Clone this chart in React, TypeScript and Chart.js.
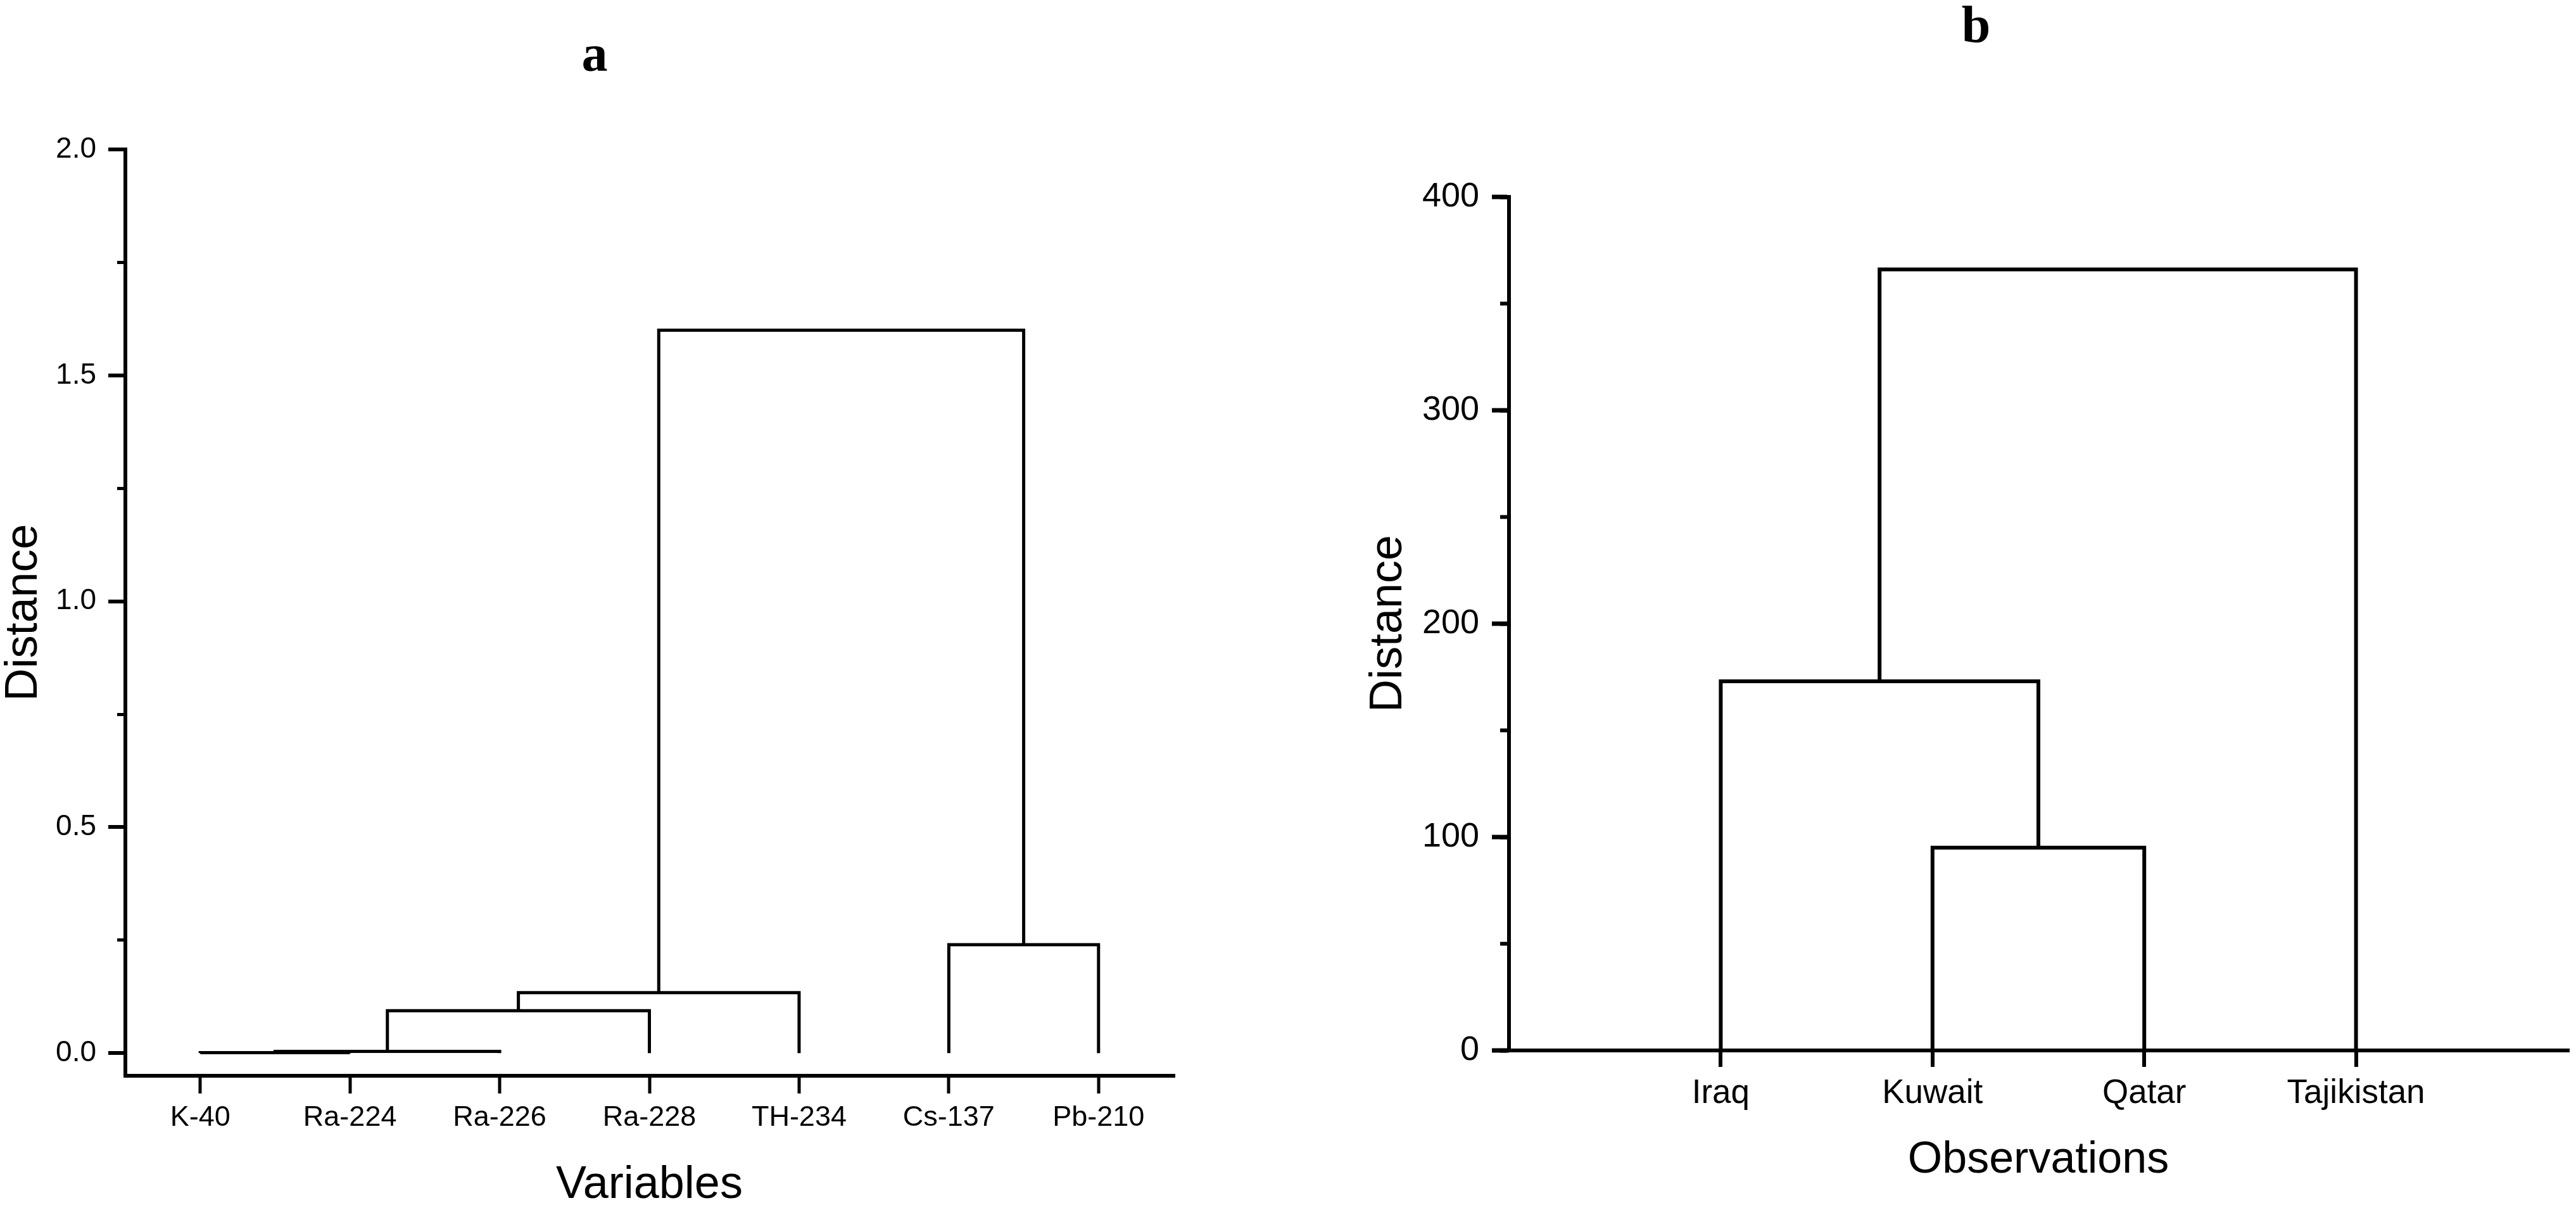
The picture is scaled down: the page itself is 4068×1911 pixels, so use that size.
import React, { useEffect, useRef } from 'react';
import { Chart, registerables } from 'chart.js';

Chart.register(...registerables);

// ---------- Panel a : variables ----------
const variableLabels = ['K-40', 'Ra-224', 'Ra-226', 'Ra-228', 'TH-234', 'Cs-137', 'Pb-210'];
// merges: node ids 0..6 are leaves, 7.. are clusters created in order
const variableMergeLeft = [0, 7, 8, 9, 5, 10];
const variableMergeRight = [1, 2, 3, 4, 6, 11];
const variableMergeHeight = [0.001, 0.004, 0.094, 0.134, 0.24, 1.6];
const variableMajorTicks = [0, 0.5, 1.0, 1.5, 2.0];
const variableMinorTicks = [0, 0.25, 0.5, 0.75, 1.0, 1.25, 1.5, 1.75, 2.0];

// ---------- Panel b : observations ----------
const observationLabels = ['Iraq', 'Kuwait', 'Qatar', 'Tajikistan'];
const observationMergeLeft = [1, 0, 5];
const observationMergeRight = [2, 4, 3];
const observationMergeHeight = [95, 173, 366];
const observationMajorTicks = [0, 100, 200, 300, 400];
const observationMinorTicks = [0, 50, 100, 150, 200, 250, 300, 350, 400];

const FONT_SANS = "'Liberation Sans', Arial, Helvetica, sans-serif";
const FONT_NARROW = "'Liberation Sans Narrow', 'Arial Narrow', 'Liberation Sans', sans-serif";
const FONT_SERIF = "'Liberation Serif', 'Times New Roman', serif";

function dendrogramSegments(n: number, left: number[], right: number[], heights: number[]) {
  const xs: number[] = [];
  const hs: number[] = [];
  for (let i = 0; i < n; i++) {
    xs.push(i);
    hs.push(0);
  }
  return left.map((l, k) => {
    const r = right[k];
    const h = heights[k];
    const seg = [
      { x: xs[l], y: hs[l] },
      { x: xs[l], y: h },
      { x: xs[r], y: h },
      { x: xs[r], y: hs[r] },
    ];
    xs.push((xs[l] + xs[r]) / 2);
    hs.push(h);
    return seg;
  });
}

type PanelSpec = {
  title: string;
  titlePad: { top: number; bottom: number };
  padding: { left: number; right: number; top: number; bottom: number };
  labels: string[];
  mergeLeft: number[];
  mergeRight: number[];
  mergeHeight: number[];
  xMin: number;
  xMax: number;
  yMin: number;
  yMax: number;
  majorTicks: number[];
  minorTicks: number[];
  yFmt: (v: number) => string;
  yWidth: number;
  xHeight: number;
  xTickFont: any;
  xTickLen: number;
  xTickPad: number;
  yTickFont: any;
  yTickLen: number;
  yMinorLen: number;
  yTickPad: number;
  xTitle: string;
  xTitleSize: number;
  xTitlePadBottom: number;
  yTitleSize: number;
  yTitleLineHeight: number;
  lineWidth: number;
  axisWidth: number;
  tickWidth: number;
};

function buildConfig(p: PanelSpec): any {
  const segments = dendrogramSegments(p.labels.length, p.mergeLeft, p.mergeRight, p.mergeHeight);
  return {
    type: 'scatter',
    data: {
      datasets: segments.map((seg) => ({
        data: seg,
        showLine: true,
        borderColor: '#000',
        backgroundColor: '#000',
        borderWidth: p.lineWidth,
        pointRadius: 0,
        pointHoverRadius: 0,
        borderJoinStyle: 'miter',
        borderCapStyle: 'butt',
        fill: false,
        tension: 0,
        clip: false,
        xAxisID: 'x',
        yAxisID: 'y',
      })),
    },
    options: {
      responsive: false,
      animation: false,
      devicePixelRatio: 1,
      events: [],
      layout: { padding: p.padding },
      plugins: {
        legend: { display: false },
        tooltip: { enabled: false },
        title: {
          display: true,
          text: p.title,
          color: '#000',
          font: { family: FONT_SERIF, size: 82, weight: 'bold', lineHeight: 1 },
          padding: p.titlePad,
        },
      },
      scales: {
        x: {
          type: 'linear',
          position: 'bottom',
          min: p.xMin,
          max: p.xMax,
          afterBuildTicks: (s: any) => {
            s.ticks = p.labels.map((_, i) => ({ value: i }));
          },
          afterFit: (s: any) => {
            s.height = p.xHeight;
          },
          ticks: {
            callback: (v: number) => p.labels[v],
            color: '#000',
            font: p.xTickFont,
            padding: p.xTickPad,
            autoSkip: false,
            maxRotation: 0,
            minRotation: 0,
          },
          grid: {
            drawOnChartArea: false,
            drawTicks: true,
            tickLength: p.xTickLen,
            tickWidth: p.tickWidth,
            tickColor: '#000',
            lineWidth: p.axisWidth,
            color: '#000',
          },
          border: { display: true, width: p.axisWidth, color: '#000' },
          title: {
            display: true,
            text: p.xTitle,
            color: '#000',
            font: { family: FONT_SANS, size: p.xTitleSize, lineHeight: 1 },
            padding: { top: 0, bottom: p.xTitlePadBottom },
          },
        },
        y: {
          type: 'linear',
          position: 'left',
          min: p.yMin,
          max: p.yMax,
          bounds: 'data',
          afterBuildTicks: (s: any) => {
            s.ticks = p.majorTicks.map((v) => ({ value: v }));
          },
          afterFit: (s: any) => {
            s.width = p.yWidth;
          },
          ticks: {
            callback: (v: number) => p.yFmt(v),
            color: '#000',
            font: p.yTickFont,
            padding: p.yTickPad,
            autoSkip: false,
          },
          grid: {
            drawOnChartArea: false,
            drawTicks: true,
            tickLength: p.yTickLen,
            tickWidth: p.tickWidth + 1,
            tickColor: '#000',
            lineWidth: p.axisWidth,
            color: '#000',
          },
          border: { display: true, width: p.axisWidth, color: '#000' },
          title: {
            display: true,
            text: 'Distance',
            color: '#000',
            font: { family: FONT_SANS, size: p.yTitleSize, lineHeight: p.yTitleLineHeight },
            padding: 0,
          },
        },
        yMinor: {
          type: 'linear',
          axis: 'y',
          position: { x: p.xMin },
          min: p.yMin,
          max: p.yMax,
          bounds: 'data',
          afterBuildTicks: (s: any) => {
            s.ticks = p.minorTicks.map((v) => ({ value: v }));
          },
          ticks: { display: false },
          grid: {
            drawOnChartArea: false,
            drawTicks: true,
            tickLength: p.yMinorLen,
            tickWidth: p.tickWidth,
            tickColor: '#000',
            lineWidth: 1,
            color: '#000',
          },
          border: { display: false },
        },
      },
    },
  };
}

const panelA: PanelSpec = {
  title: 'a',
  titlePad: { top: 50, bottom: 104 },
  padding: { left: 25, right: 25, top: 0, bottom: 0 },
  labels: variableLabels,
  mergeLeft: variableMergeLeft,
  mergeRight: variableMergeRight,
  mergeHeight: variableMergeHeight,
  xMin: -0.5,
  xMax: 6.5,
  yMin: -0.05,
  yMax: 2.0,
  majorTicks: variableMajorTicks,
  minorTicks: variableMinorTicks,
  yFmt: (v) => v.toFixed(1),
  yWidth: 173,
  xHeight: 212,
  xTickFont: { family: FONT_SANS, size: 45 },
  xTickLen: 28,
  xTickPad: 12,
  yTickFont: { family: FONT_NARROW, size: 46 },
  yTickLen: 27,
  yMinorLen: 13,
  yTickPad: 19,
  xTitle: 'Variables',
  xTitleSize: 72,
  xTitlePadBottom: 3,
  yTitleSize: 72,
  yTitleLineHeight: 0.36,
  lineWidth: 5,
  axisWidth: 6,
  tickWidth: 5,
};

const panelB: PanelSpec = {
  title: 'b',
  titlePad: { top: 4, bottom: 225 },
  padding: { left: 86, right: 13, top: 0, bottom: 0 },
  labels: observationLabels,
  mergeLeft: observationMergeLeft,
  mergeRight: observationMergeRight,
  mergeHeight: observationMergeHeight,
  xMin: -1,
  xMax: 4,
  yMin: 0,
  yMax: 400,
  majorTicks: observationMajorTicks,
  minorTicks: observationMinorTicks,
  yFmt: (v) => String(v),
  yWidth: 197,
  xHeight: 252,
  xTickFont: { family: FONT_SANS, size: 53 },
  xTickLen: 26,
  xTickPad: 11,
  yTickFont: { family: FONT_SANS, size: 54 },
  yTickLen: 27,
  yMinorLen: 14,
  yTickPad: 20,
  xTitle: 'Observations',
  xTitleSize: 70,
  xTitlePadBottom: 43,
  yTitleSize: 72,
  yTitleLineHeight: 0.2,
  lineWidth: 6,
  axisWidth: 6,
  tickWidth: 6,
};

function DendrogramPanel({ spec, left, width }: { spec: PanelSpec; left: number; width: number }) {
  const ref = useRef<HTMLCanvasElement | null>(null);
  useEffect(() => {
    if (!ref.current) return;
    const chart = new Chart(ref.current, buildConfig(spec));
    return () => chart.destroy();
  }, [spec]);
  return (
    <canvas
      ref={ref}
      width={width}
      height={1911}
      style={{ position: 'absolute', left, top: 0, width, height: 1911, display: 'block' }}
    />
  );
}

export default function App() {
  return (
    <div
      style={{
        position: 'absolute',
        left: 0,
        top: 0,
        width: 4068,
        height: 1911,
        background: '#ffffff',
        overflow: 'hidden',
      }}
    >
      <DendrogramPanel spec={panelA} left={0} width={1878} />
      <DendrogramPanel spec={panelB} left={2100} width={1968} />
    </div>
  );
}
